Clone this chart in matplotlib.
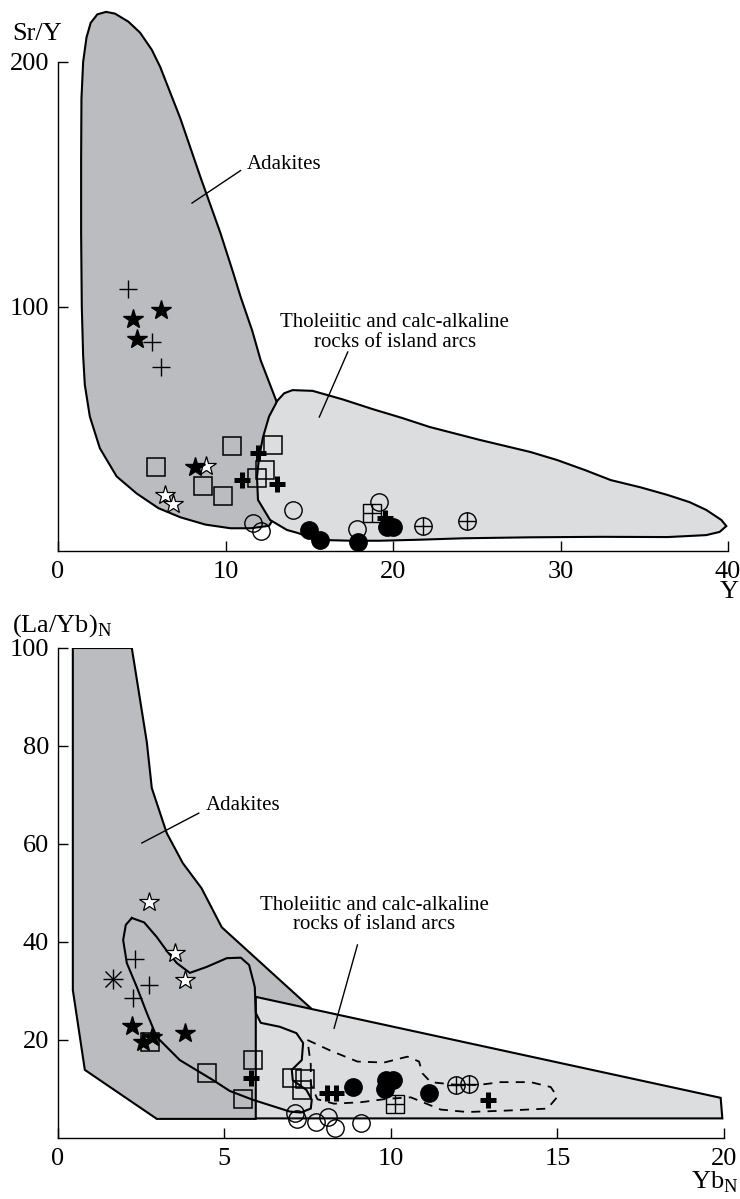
import matplotlib
matplotlib.use("Agg")
import matplotlib.pyplot as plt
from matplotlib.patches import Polygon

plt.rcParams["font.family"] = "Liberation Serif"
plt.rcParams["mathtext.fontset"] = "custom"
plt.rcParams["mathtext.rm"] = "Liberation Serif"

DARK = "#bbbcc0"
LIGHT = "#dcdddf"

# ---- Sr/Y vs Y: field outlines ----
adakite_y_x = [13.5, 12.6, 11.5, 10.3, 8.8, 7.3, 6.0, 4.7, 3.5, 2.5, 1.9, 1.6, 1.5,
               1.42, 1.38, 1.38, 1.4, 1.5, 1.7, 1.95, 2.35, 2.87, 3.4, 4.2, 4.9, 5.6,
               6.1, 7.3, 8.5, 9.7, 10.45, 10.9, 11.6, 12.1, 13.0, 13.8, 14.0]
adakite_y_y = [20, 10.3, 9.3, 9.3, 10.8, 13.8, 17.5, 23.5, 30.5, 42, 55, 68, 80,
               100, 130, 160, 185, 200, 210, 216, 219.5, 220.5, 219.8, 216.5, 212, 205,
               198, 177, 153, 130, 114, 104, 90, 78, 62, 45, 25]

arc_y_x = [14.0, 15.2, 17.0, 18.8, 20.5, 22.2, 25.2, 28.2, 29.8, 31.5, 33.0, 34.8,
           36.4, 37.7, 38.7, 39.6, 39.9, 39.5, 38.7, 36.4, 32.4, 28.2, 24.2, 21.5,
           19.2, 17.5, 15.8, 15.2, 14.3, 13.67, 12.66, 11.94, 11.88, 12.0, 12.24,
           12.6, 13.1, 13.5]
arc_y_y = [65.8, 65.5, 62.0, 58.0, 54.5, 50.7, 45.4, 40.5, 37.2, 33.0, 29.0, 26.0,
           22.9, 20.0, 16.8, 12.7, 10.2, 7.8, 6.5, 5.7, 5.8, 5.6, 5.2, 4.6,
           4.2, 4.2, 4.5, 5.3, 7.4, 8.6, 12.7, 20.9, 30.3, 38.0, 46.6,
           55.0, 61.5, 64.5]

# ---- Sr/Y vs Y: samples ----
thin_plus_x = [4.18, 5.6, 6.15]
thin_plus_y = [107.2, 85.5, 75.3]
star_fill_x = [6.15, 4.48, 4.72, 8.18]
star_fill_y = [98.6, 94.9, 86.7, 34.4]
star_open_x = [8.84, 6.39, 6.87]
star_open_y = [34.8, 22.9, 19.2]
square_x = [5.85, 10.39, 8.66, 9.85, 12.84, 12.36, 11.88]
square_y = [34.4, 42.9, 26.6, 22.5, 43.4, 33.1, 29.9]
bold_plus_x = [11.94, 10.99, 13.07, 19.5]
bold_plus_y = [40.1, 29.0, 27.4, 13.5]
circle_x = [11.64, 12.12, 14.0, 17.85, 19.16]
circle_y = [11.5, 8.2, 16.6, 9.0, 20.0]
dot_x = [14.99, 15.64, 17.91, 19.64, 20.0]
dot_y = [8.6, 4.5, 3.7, 9.8, 9.8]
boxplus_x = [18.75]
boxplus_y = [15.5]
oplus_x = [21.8, 24.4]
oplus_y = [10.2, 12.3]

# ---- (La/Yb)N vs YbN: field outlines ----
adakite_n_x = [0.46, 2.23, 2.68, 2.83, 3.28, 3.76, 4.32, 4.93, 7.6, 5.95, 2.98, 0.82, 0.46]
adakite_n_y = [100, 100, 80.8, 71.4, 62.2, 56.1, 51.0, 43.0, 26.5, 3.9, 3.9, 13.9, 30.2]

arc_n_x = [5.95, 19.9, 19.95, 5.95]
arc_n_y = [28.8, 8.2, 4.0, 4.0]

loop_x = [2.23, 2.6, 2.98, 3.3, 3.58, 3.97, 4.47, 5.08, 5.5, 5.75, 5.92, 5.95, 6.1,
          6.67, 7.17, 7.37, 7.33, 7.03, 7.06, 7.47, 7.63, 7.6, 7.3, 6.97, 5.86,
          5.17, 4.67, 3.67, 2.98, 2.68, 2.38, 2.08, 1.97, 2.05, 2.23]
loop_y = [44.9, 44.0, 41.0, 38.0, 35.7, 33.7, 34.9, 36.7, 36.8, 35.3, 30.8, 25.5, 23.5,
          22.7, 21.4, 19.4, 15.9, 13.9, 11.8, 9.8, 7.8, 6.0, 5.2, 5.4, 7.8,
          9.6, 11.8, 15.9, 20.6, 25.5, 30.8, 35.7, 40.4, 43.5, 44.9]

dash_x = [7.5, 8.2, 9.0, 9.8, 10.5, 10.85, 10.95, 11.2, 11.9, 12.6, 13.3, 14.2, 14.8,
          15.0, 14.7, 13.5, 12.3, 11.5, 11.0, 10.6, 9.9, 9.1, 8.3, 7.8, 7.6, 7.6, 7.5]
dash_y = [20.0, 17.8, 15.6, 15.4, 16.6, 15.6, 13.2, 11.4, 10.9, 10.8, 11.4, 11.4, 10.4,
          8.4, 6.0, 5.6, 5.3, 5.8, 7.2, 8.3, 8.0, 7.3, 7.0, 7.9, 11.0, 15.0, 20.0]

# ---- (La/Yb)N vs YbN: samples ----
n_star_open_x = [2.74, 3.52, 3.82]
n_star_open_y = [48.2, 37.8, 32.2]
n_thin_plus_x = [2.32, 2.74, 2.27]
n_thin_plus_y = [36.5, 31.2, 28.6]
n_aster_x = [1.66]
n_aster_y = [32.4]
n_star_fill_x = [2.23, 3.82, 2.57, 2.83]
n_star_fill_y = [22.9, 21.4, 19.6, 20.6]
n_square_x = [2.77, 4.48, 5.87, 5.57, 7.03, 7.42, 7.33]
n_square_y = [19.6, 13.2, 15.9, 8.0, 12.2, 12.0, 9.8]
n_bold_plus_x = [5.8, 12.91, 8.08, 8.35]
n_bold_plus_y = [12.2, 7.8, 9.2, 9.2]
n_dot_x = [8.86, 9.85, 10.06, 9.82, 11.14]
n_dot_y = [10.4, 11.8, 11.8, 10.0, 9.2]
n_boxplus_x = [10.12]
n_boxplus_y = [6.9]
n_oplus_x = [11.95, 12.34]
n_oplus_y = [10.8, 11.0]
n_circle_x = [7.12, 7.18, 7.75, 8.11, 8.32, 9.1]
n_circle_y = [5.1, 3.9, 3.3, 4.3, 2.0, 3.1]

W, H = 740, 1199


def fx(px):
    return px / W


def fy(py):
    return 1 - py / H


def field(ax, xs, ys, color, z):
    ax.add_patch(Polygon(list(zip(xs, ys)), closed=True, facecolor=color,
                         edgecolor="black", linewidth=1.5, zorder=z))


def pts(ax, xs, ys, marker, ms, face="none", mew=1.0, z=5):
    ax.plot(xs, ys, linestyle="none", marker=marker, ms=ms, mfc=face,
            mec="black", mew=mew, clip_on=False, zorder=z)


def samples(ax, d):
    pts(ax, d["thin_plus"][0], d["thin_plus"][1], "+", 13)
    pts(ax, d["bold_plus"][0], d["bold_plus"][1], "+", 12, mew=3.6, z=4)
    pts(ax, d["square"][0], d["square"][1], "s", 13, face="none", mew=1.1)
    pts(ax, d["circle"][0], d["circle"][1], "o", 12.5, face="none")
    pts(ax, d["dot"][0], d["dot"][1], "o", 12.5, face="black", z=6)
    pts(ax, d["star_open"][0], d["star_open"][1], "*", 15, face="white", mew=0.9)
    pts(ax, d["star_fill"][0], d["star_fill"][1], "*", 15, face="black")
    pts(ax, d["boxplus"][0], d["boxplus"][1], "s", 12.5)
    pts(ax, d["boxplus"][0], d["boxplus"][1], "+", 12.5)
    pts(ax, d["oplus"][0], d["oplus"][1], "o", 12.5)
    pts(ax, d["oplus"][0], d["oplus"][1], "+", 12.5)


def style_axes(ax, xmax, ytop, xticks, yticks):
    for s in ("top", "right"):
        ax.spines[s].set_visible(False)
    ax.spines["left"].set_bounds(0, ytop)
    ax.spines["bottom"].set_bounds(0, xmax)
    for s in ("left", "bottom"):
        ax.spines[s].set_linewidth(1.0)
    ax.set_xticks(xticks)
    ax.set_yticks(yticks)
    ax.tick_params(direction="in", length=7, width=1.0, labelsize=19)
    ax.tick_params(axis="x", pad=7)
    ax.tick_params(axis="y", pad=6)
    ax.patch.set_visible(False)


fig = plt.figure(figsize=(W / 100, H / 100), dpi=100)

# top panel: Sr/Y - Y
ax1 = fig.add_axes([fx(58), fy(551), fx(728) - fx(58), 224 * 2.445 / H])
ax1.set_xlim(0, 40)
ax1.set_ylim(0, 224)
field(ax1, adakite_y_x, adakite_y_y, DARK, 1)
field(ax1, arc_y_x, arc_y_y, LIGHT, 2)
samples(ax1, {
    "thin_plus": (thin_plus_x, thin_plus_y), "bold_plus": (bold_plus_x, bold_plus_y),
    "square": (square_x, square_y), "circle": (circle_x, circle_y),
    "dot": (dot_x, dot_y), "star_open": (star_open_x, star_open_y),
    "star_fill": (star_fill_x, star_fill_y), "boxplus": (boxplus_x, boxplus_y),
    "oplus": (oplus_x, oplus_y)})
style_axes(ax1, 40, 200, [0, 10, 20, 30, 40], [100, 200])
ax1.text(11.3, 158, "Adakites", fontsize=15, ha="left", va="center")
ax1.plot([8.0, 10.9], [142.3, 155.6], color="black", lw=1.0)
ax1.text(20.1, 89.5, "Tholeiitic and calc-alkaline\nrocks of island arcs",
         fontsize=15, ha="center", va="center", linespacing=1.05)
ax1.plot([17.3, 15.6], [81.4, 54.8], color="black", lw=1.0)

# bottom panel: (La/Yb)N - YbN
ax2 = fig.add_axes([fx(57.5), fy(1138), fx(724) - fx(57.5), 490 / H])
ax2.set_xlim(0, 20)
ax2.set_ylim(0, 100)
field(ax2, adakite_n_x, adakite_n_y, DARK, 1)
field(ax2, arc_n_x, arc_n_y, LIGHT, 2)
ax2.plot(loop_x, loop_y, color="black", lw=1.5, zorder=3)
ax2.plot(dash_x, dash_y, color="black", lw=1.3, dashes=(5, 4), zorder=3)
samples(ax2, {
    "thin_plus": (n_thin_plus_x, n_thin_plus_y),
    "bold_plus": (n_bold_plus_x, n_bold_plus_y),
    "square": (n_square_x, n_square_y), "circle": (n_circle_x, n_circle_y),
    "dot": (n_dot_x, n_dot_y), "star_open": (n_star_open_x, n_star_open_y),
    "star_fill": (n_star_fill_x, n_star_fill_y),
    "boxplus": (n_boxplus_x, n_boxplus_y), "oplus": (n_oplus_x, n_oplus_y)})
pts(ax2, n_aster_x, n_aster_y, "+", 14)
pts(ax2, n_aster_x, n_aster_y, "x", 11)
style_axes(ax2, 20, 100, [0, 5, 10, 15, 20], [20, 40, 60, 80, 100])
ax2.text(4.45, 67.8, "Adakites", fontsize=15, ha="left", va="center")
ax2.plot([2.53, 4.24], [60.2, 66.3], color="black", lw=1.0)
ax2.text(9.5, 45.5, "Tholeiitic and calc-alkaline\nrocks of island arcs",
         fontsize=15, ha="center", va="center", linespacing=1.05)
ax2.plot([9.0, 8.3], [39.4, 22.4], color="black", lw=1.0)

# axis titles
fig.text(fx(12), fy(34), "Sr/Y", fontsize=19, ha="left", va="center")
fig.text(fx(739), fy(592), "Y", fontsize=19, ha="right", va="center")
fig.text(fx(12), fy(626), r"(La/Yb)$_\mathregular{N}$", fontsize=19,
         ha="left", va="center")
fig.text(fx(739), fy(1182), r"Yb$_\mathregular{N}$", fontsize=19,
         ha="right", va="center")

fig.savefig("out.png", dpi=100)
